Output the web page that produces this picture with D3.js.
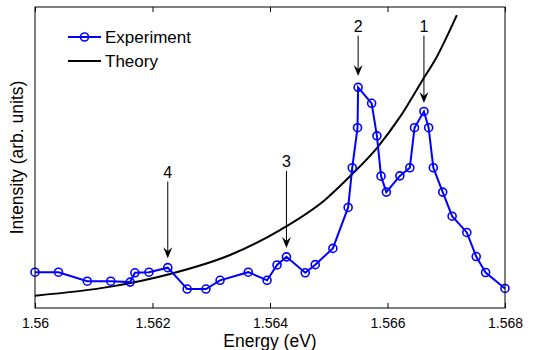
<!DOCTYPE html>
<html>
<head>
<meta charset="utf-8">
<script src="https://cdn.jsdelivr.net/npm/d3@7"></script>
<style>
  body { margin: 0; background: #fff; }
  text { font-family: "Liberation Sans", Arial, sans-serif; fill: #000; }
</style>
</head>
<body>
<div id="chart"></div>
<script>
// measured points (energy in eV, intensity in arb. units)
let expEnergy = [1.56, 1.5604, 1.56089, 1.56129, 1.56162, 1.5617, 1.56194, 1.56226,
  1.56259, 1.56291, 1.56315, 1.56363, 1.56395, 1.56412, 1.56428, 1.5646, 1.56477,
  1.56507, 1.56533, 1.5654, 1.56549, 1.5655, 1.56573, 1.56582, 1.56589, 1.56598,
  1.56621, 1.56638, 1.56646, 1.56662, 1.5667, 1.56678, 1.56694, 1.5671, 1.56735,
  1.56751, 1.56767, 1.568];
let expIntensity = [1.19, 1.19, 0.89, 0.89, 0.86, 1.17, 1.19, 1.34,
  0.63, 0.63, 0.92, 1.19, 0.92, 1.43, 1.70, 1.17, 1.44,
  1.98, 3.34, 4.66, 5.99, 7.33, 6.80, 5.72, 4.38, 3.85,
  4.39, 4.66, 5.99, 6.53, 5.99, 4.66, 3.85, 3.05, 2.51,
  1.71, 1.18, 0.65];

// theory curve
let theoryEnergy = [1.56, 1.56129, 1.5623, 1.56332, 1.56417, 1.56494, 1.5654,
  1.56583, 1.56621, 1.56658, 1.56684, 1.56718];
let theoryIntensity = [0.41, 0.71, 1.13, 1.76, 2.59, 3.6, 4.45,
  5.34, 6.34, 7.52, 8.35, 9.73];

// numbered arrows
let arrowLabels = ['1', '2', '3', '4'];
let arrowEnergy = [1.56662, 1.5655, 1.56428, 1.56226];
let arrowTop = [9.05, 9.05, 4.55, 4.2];
let arrowTip = [6.81, 7.71, 1.99, 1.65];

let xTicks = [1.56, 1.562, 1.564, 1.566, 1.568];

let margin = { top: 7, right: 28, bottom: 42, left: 35 };
let width = 533 - margin.left - margin.right;
let height = 350 - margin.top - margin.bottom;

let svg = d3.select('#chart').append('svg')
  .attr('width', 533)
  .attr('height', 350);

let g = svg.append('g')
  .attr('transform', `translate(${margin.left},${margin.top})`);

let x = d3.scaleLinear().domain([1.56, 1.568]).range([0, width]);
let y = d3.scaleLinear().domain([0, 10]).range([height, 0]);

// theory line
let theory = d3.zip(theoryEnergy, theoryIntensity);
g.append('path')
  .datum(theory)
  .attr('fill', 'none')
  .attr('stroke', '#000')
  .attr('stroke-width', 2)
  .attr('d', d3.line()
    .x(d => x(d[0]))
    .y(d => y(d[1]))
    .curve(d3.curveMonotoneX));

// experiment line + markers
let exp = d3.zip(expEnergy, expIntensity);
g.append('path')
  .datum(exp)
  .attr('fill', 'none')
  .attr('stroke', '#0000ff')
  .attr('stroke-width', 2)
  .attr('d', d3.line().x(d => x(d[0])).y(d => y(d[1])));

g.selectAll('.pt')
  .data(exp)
  .enter().append('circle')
  .attr('class', 'pt')
  .attr('cx', d => x(d[0]))
  .attr('cy', d => y(d[1]))
  .attr('r', 4)
  .attr('fill', 'none')
  .attr('stroke', '#0000ff')
  .attr('stroke-width', 1.6);

// axes box with inward ticks top and bottom
g.append('rect')
  .attr('width', width)
  .attr('height', height)
  .attr('fill', 'none')
  .attr('stroke', '#000')
  .attr('stroke-width', 1);

let xAxisBottom = g.append('g')
  .attr('transform', `translate(0,${height})`)
  .call(d3.axisBottom(x).tickValues(xTicks).tickSizeInner(-5).tickSizeOuter(0)
    .tickPadding(10).tickFormat(d3.format('')));
xAxisBottom.select('.domain').remove();
xAxisBottom.selectAll('text').style('font-size', '14px')
  .style('font-family', '"Liberation Sans", Arial, sans-serif');

let xAxisTop = g.append('g')
  .call(d3.axisTop(x).tickValues(xTicks).tickSizeInner(-5).tickSizeOuter(0)
    .tickFormat(''));
xAxisTop.select('.domain').remove();

// arrows
let arrows = g.selectAll('.arrow')
  .data(arrowLabels)
  .enter().append('g')
  .attr('class', 'arrow');

arrows.append('line')
  .attr('x1', (d, i) => x(arrowEnergy[i]))
  .attr('x2', (d, i) => x(arrowEnergy[i]))
  .attr('y1', (d, i) => y(arrowTop[i]))
  .attr('y2', (d, i) => y(arrowTip[i]) - 4)
  .attr('stroke', '#000')
  .attr('stroke-width', 1);

arrows.append('path')
  .attr('d', 'M0,0L-4.5,-11L0,-7L4.5,-11Z')
  .attr('transform', (d, i) => `translate(${x(arrowEnergy[i])},${y(arrowTip[i])})`)
  .attr('fill', '#000');

arrows.append('text')
  .attr('x', (d, i) => x(arrowEnergy[i]))
  .attr('y', (d, i) => y(arrowTop[i]) - 4)
  .attr('text-anchor', 'middle')
  .style('font-size', '16px')
  .text(d => d);

// legend
let legend = g.append('g').attr('transform', 'translate(33,30)');
legend.append('line')
  .attr('x1', 0).attr('x2', 33).attr('y1', 0).attr('y2', 0)
  .attr('stroke', '#0000ff').attr('stroke-width', 2);
legend.append('circle')
  .attr('cx', 16.5).attr('cy', 0).attr('r', 4)
  .attr('fill', 'none').attr('stroke', '#0000ff').attr('stroke-width', 1.6);
legend.append('text')
  .attr('x', 37).attr('y', 0).attr('dy', '0.35em')
  .style('font-size', '17px')
  .text('Experiment');
legend.append('line')
  .attr('x1', 0).attr('x2', 33).attr('y1', 24).attr('y2', 24)
  .attr('stroke', '#000').attr('stroke-width', 2);
legend.append('text')
  .attr('x', 37).attr('y', 24).attr('dy', '0.35em')
  .style('font-size', '17px')
  .text('Theory');

// axis labels
svg.append('text')
  .attr('x', margin.left + width / 2)
  .attr('y', 347)
  .attr('text-anchor', 'middle')
  .style('font-size', '17.5px')
  .text('Energy (eV)');

svg.append('text')
  .attr('transform', `translate(23,${margin.top + height / 2}) rotate(-90)`)
  .attr('text-anchor', 'middle')
  .style('font-size', '17.5px')
  .text('Intensity (arb. units)');
</script>
</body>
</html>
